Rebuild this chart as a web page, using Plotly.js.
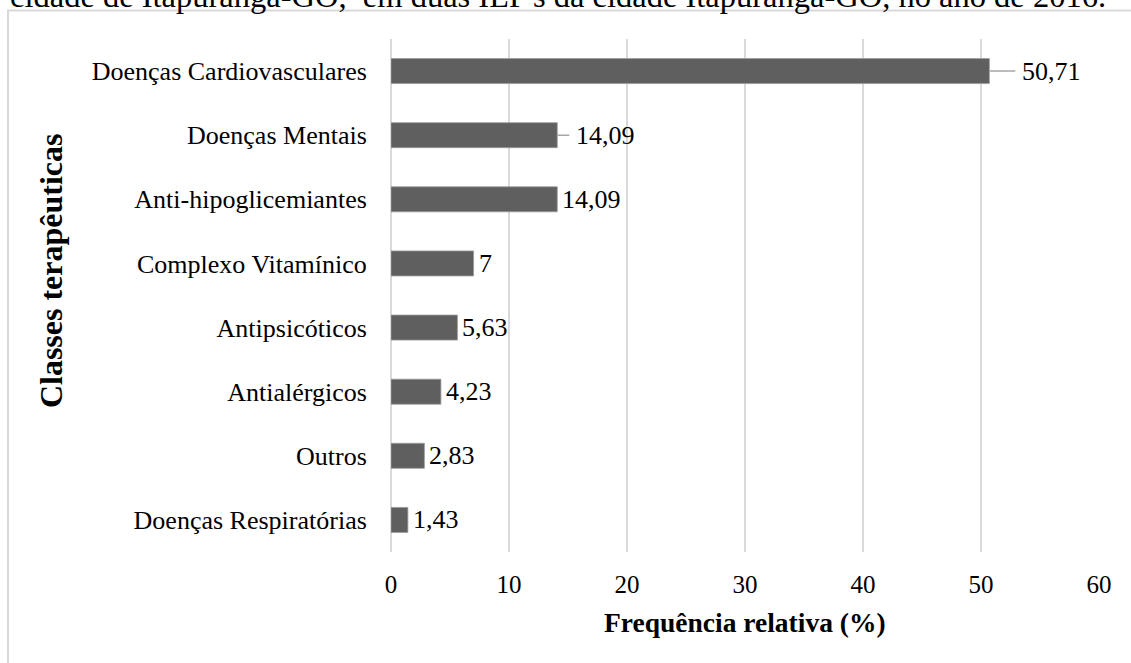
<!DOCTYPE html>
<html>
<head>
<meta charset="utf-8">
<script src="https://cdn.plot.ly/plotly-3.0.1.min.js"></script>
<style>
  html, body { margin: 0; padding: 0; background: #ffffff; }
  #chart { width: 1131px; height: 663px; }
</style>
</head>
<body>
<div id="chart"></div>
<script>
// ---- data ----
const categories = [
  "Doenças Cardiovasculares",
  "Doenças Mentais",
  "Anti-hipoglicemiantes",
  "Complexo Vitamínico",
  "Antipsicóticos",
  "Antialérgicos",
  "Outros",
  "Doenças Respiratórias"
];
const values = [50.71, 14.09, 14.09, 7, 5.63, 4.23, 2.83, 1.43];
const valueLabels = ["50,71", "14,09", "14,09", "7", "5,63", "4,23", "2,83", "1,43"];
const leaderLine = [true, true, false, false, false, false, false, false];
const xTicks = [0, 10, 20, 30, 40, 50, 60];
const caption = "cidade de Itapuranga-GO,  em duas ILP's da cidade Itapuranga-GO, no ano de 2016.";
const xTitle = "Frequência relativa (%)";
const yTitle = "Classes terapêuticas";

// ---- layout geometry ----
const W = 1131, H = 663;
const L = 391, R = 32, T = 38.5, B = 111.3;
const PW = W - L - R, PH = H - T - B;
const px2x = p => (p - L) / PW;
const px2y = p => (H - B - p) / PH;

const FONT = "Liberation Serif, Times New Roman, serif";

const annotations = [];
values.forEach((v, i) => {
  if (leaderLine[i]) {
    annotations.push({
      x: v, y: categories[i], xref: "x", yref: "y",
      text: valueLabels[i], showarrow: true,
      arrowhead: 0, arrowwidth: 1.5, arrowcolor: "#a6a6a6",
      ax: i === 0 ? 26 : 12, ay: 0, axref: "pixel", ayref: "pixel",
      xanchor: "left", yanchor: "middle", borderpad: 6,
      font: {family: FONT, size: 26, color: "#000000"}
    });
  } else {
    annotations.push({
      x: v, y: categories[i], xref: "x", yref: "y",
      text: valueLabels[i], showarrow: false,
      xanchor: "left", yanchor: "middle", xshift: 3,
      font: {family: FONT, size: 26, color: "#000000"}
    });
  }
});

annotations.push({
  xref: "paper", yref: "paper", x: 0.5, y: px2y(622),
  xanchor: "center", yanchor: "middle", showarrow: false,
  text: "<b>" + xTitle + "</b>",
  font: {family: FONT, size: 27.5, color: "#000000"}
});
annotations.push({
  xref: "paper", yref: "paper", x: px2x(51.7), y: px2y(270),
  xanchor: "center", yanchor: "middle", showarrow: false, textangle: -90,
  text: "<b>" + yTitle + "</b>",
  font: {family: FONT, size: 32, color: "#000000"}
});
annotations.push({
  xref: "paper", yref: "paper", x: px2x(8), y: px2y(-5),
  xanchor: "left", yanchor: "middle", showarrow: false,
  text: caption,
  font: {family: FONT, size: 32.5, color: "#000000"}
});

const trace = {
  type: "bar", orientation: "h",
  x: values, y: categories,
  width: 0.39,
  marker: {color: "#5f5f5f", line: {color: "#9a9a9a", width: 0.8}},
  hoverinfo: "none"
};

const layout = {
  width: W, height: H,
  margin: {l: L, r: R, t: T, b: B, pad: 0},
  paper_bgcolor: "#ffffff", plot_bgcolor: "#ffffff",
  showlegend: false,
  xaxis: {
    range: [0, 60], tickvals: xTicks, ticktext: xTicks.map(String),
    showgrid: true, gridcolor: "#d9d9d9", gridwidth: 1.5,
    zeroline: true, zerolinecolor: "#d9d9d9", zerolinewidth: 1.5,
    showline: false, ticks: "outside", ticklen: 10, tickcolor: "rgba(0,0,0,0)",
    tickfont: {family: FONT, size: 25, color: "#000000"},
    fixedrange: true
  },
  yaxis: {
    type: "category", categoryorder: "array", categoryarray: categories,
    range: [categories.length - 0.5, -0.5],
    showgrid: false, zeroline: false, showline: false,
    ticks: "outside", ticklen: 18, tickcolor: "rgba(0,0,0,0)",
    tickfont: {family: FONT, size: 26, color: "#000000"},
    fixedrange: true
  },
  annotations: annotations,
  shapes: [{
    type: "rect", xref: "paper", yref: "paper",
    x0: px2x(8), x1: px2x(W + 20), y0: px2y(H + 20), y1: px2y(10),
    line: {color: "#d9d9d9", width: 2}, fillcolor: "rgba(0,0,0,0)", layer: "below"
  }]
};

Plotly.newPlot("chart", [trace], layout, {displayModeBar: false, staticPlot: true});
</script>
</body>
</html>
